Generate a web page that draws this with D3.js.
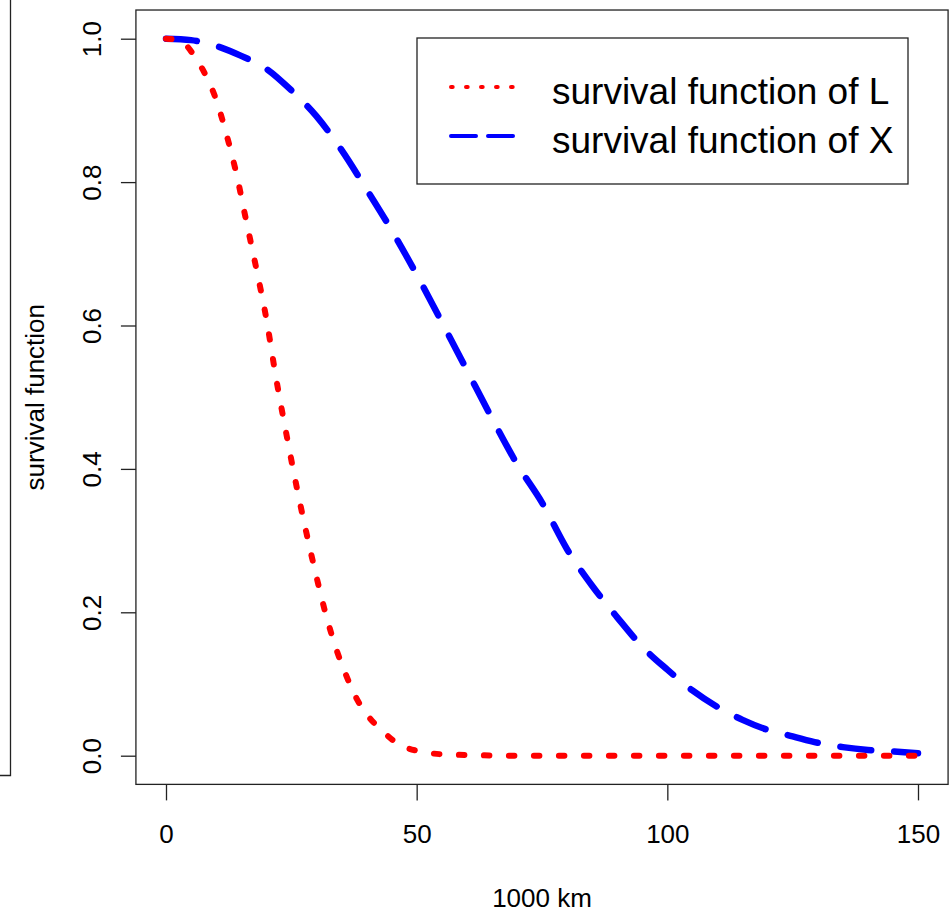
<!DOCTYPE html>
<html>
<head>
<meta charset="utf-8">
<script src="https://cdn.jsdelivr.net/npm/d3@7"></script>
<style>
  body { margin: 0; background: #fff; }
  text { font-family: "Liberation Sans", Arial, Helvetica, sans-serif; fill: #000; }
</style>
</head>
<body>
<div id="chart"></div>
<script>

// distance in 1000 km, and the two survival curves
var xL = [0, 2, 4, 6, 8, 10, 12, 14, 16, 18, 20, 22, 24, 26, 28, 30, 32, 34, 36, 38, 40, 42, 44, 46, 48, 50, 55, 60, 70, 80, 90, 100, 110, 120, 130, 140, 150];
var survL = [1, 0.999, 0.991, 0.972, 0.948, 0.915, 0.868, 0.813, 0.746, 0.68, 0.61, 0.525, 0.449, 0.377, 0.311, 0.25, 0.194, 0.148, 0.111, 0.08, 0.058, 0.042, 0.029, 0.018, 0.011, 0.007, 0.002, 0.001, 0, 0, 0, 0, 0, 0, 0, 0, 0];

var xX = [0, 5, 10, 15, 20, 25, 30, 35, 40, 45, 50, 55, 60, 65, 70, 75, 80, 85, 90, 95, 100, 105, 110, 115, 120, 125, 130, 135, 140, 145, 150];
var survX = [1, 0.998, 0.99, 0.976, 0.958, 0.928, 0.892, 0.845, 0.79, 0.733, 0.671, 0.605, 0.538, 0.471, 0.407, 0.353, 0.288, 0.237, 0.193, 0.152, 0.12, 0.091, 0.068, 0.05, 0.036, 0.027, 0.018, 0.012, 0.008, 0.006, 0.0035];

var xTicks = [0, 50, 100, 150];
var yTicks = [0, 0.2, 0.4, 0.6, 0.8, 1.0];
var legendLabels = ["survival function of L", "survival function of X"];

var width = 949, height = 912;

var svg = d3.select("#chart")
      .append("svg")
      .attr("width", width)
      .attr("height", height);

// R style: 4% padding around the data range
var x = d3.scaleLinear().domain([0, 150]).range([166, 918]);
var y = d3.scaleLinear().domain([0, 1]).range([755.7, 38.7]);
var x0 = x(-6), x1 = x(156), y0 = y(-0.04), y1 = y(1.04);

// leftover frame edge of the neighbouring panel
svg.append("path")
  .attr("d", "M10.5,0V775.5H0")
  .attr("fill", "none")
  .attr("stroke", "#222")
  .attr("stroke-width", 1.3);

// plot frame
svg.append("rect")
  .attr("x", x0).attr("y", y1)
  .attr("width", x1 - x0).attr("height", y0 - y1)
  .attr("fill", "none")
  .attr("stroke", "#222")
  .attr("stroke-width", 1.3);

// x axis
var gx = svg.append("g")
  .attr("transform", "translate(0," + y0 + ")")
  .call(d3.axisBottom(x).tickValues(xTicks).tickFormat(d3.format("d")).tickSizeInner(16).tickSizeOuter(0));
gx.select(".domain").remove();
gx.selectAll(".tick line").attr("stroke", "#222").attr("stroke-width", 1.3);
gx.selectAll(".tick text")
  .attr("y", 59).attr("dy", 0)
  .style("font-size", "26px")
  .attr("font-family", null);

// y axis
var gy = svg.append("g")
  .attr("transform", "translate(" + x0 + ",0)")
  .call(d3.axisLeft(y).tickValues(yTicks).tickFormat(d3.format(".1f")).tickSizeInner(15).tickSizeOuter(0));
gy.select(".domain").remove();
gy.selectAll(".tick line").attr("stroke", "#222").attr("stroke-width", 1.3);
gy.selectAll(".tick text")
  .attr("transform", "rotate(-90)")
  .attr("x", 0).attr("y", -34.5).attr("dy", 0)
  .attr("text-anchor", "middle")
  .style("font-size", "26px")
  .attr("font-family", null);

// axis titles
svg.append("text")
  .attr("x", (x0 + x1) / 2).attr("y", 906.5)
  .attr("text-anchor", "middle")
  .style("font-size", "26px")
  .text("1000 km");

svg.append("text")
  .attr("transform", "translate(43.5," + (y0 + y1) / 2 + ") rotate(-90)")
  .attr("text-anchor", "middle")
  .style("font-size", "26px")
  .text("survival function");

// curves
var line = d3.line()
  .x(function(d){ return x(d[0]); })
  .y(function(d){ return y(d[1]); })
  .curve(d3.curveMonotoneX);

svg.append("path")
  .datum(d3.zip(xX, survX))
  .attr("d", line)
  .attr("fill", "none")
  .attr("stroke", "#0000ff")
  .attr("stroke-width", 6.5)
  .attr("stroke-linecap", "round")
  .attr("stroke-dasharray", "31,23");

svg.append("path")
  .datum(d3.zip(xL, survL))
  .attr("d", line)
  .attr("fill", "none")
  .attr("stroke", "#ff0000")
  .attr("stroke-width", 6)
  .attr("stroke-linecap", "round")
  .attr("stroke-dasharray", "5.5,19.5");

// legend
var legend = svg.append("g");
legend.append("rect")
  .attr("x", 417).attr("y", 38)
  .attr("width", 908 - 417).attr("height", 184 - 38)
  .attr("fill", "#fff")
  .attr("stroke", "#222")
  .attr("stroke-width", 1.3);

var legendStyles = [
  {color: "#ff0000", dash: "1.7,13.3"},
  {color: "#0000ff", dash: "25,12"}
];

legendLabels.forEach(function(label, i){
  var ly = 87 + i * 49;
  legend.append("line")
    .attr("x1", 451).attr("x2", 513)
    .attr("y1", ly).attr("y2", ly)
    .attr("stroke", legendStyles[i].color)
    .attr("stroke-width", 4)
    .attr("stroke-linecap", "round")
    .attr("stroke-dasharray", legendStyles[i].dash);
  legend.append("text")
    .attr("x", 552).attr("y", ly + 17)
    .style("font-size", "37px")
    .text(label);
});

</script>
</body>
</html>
